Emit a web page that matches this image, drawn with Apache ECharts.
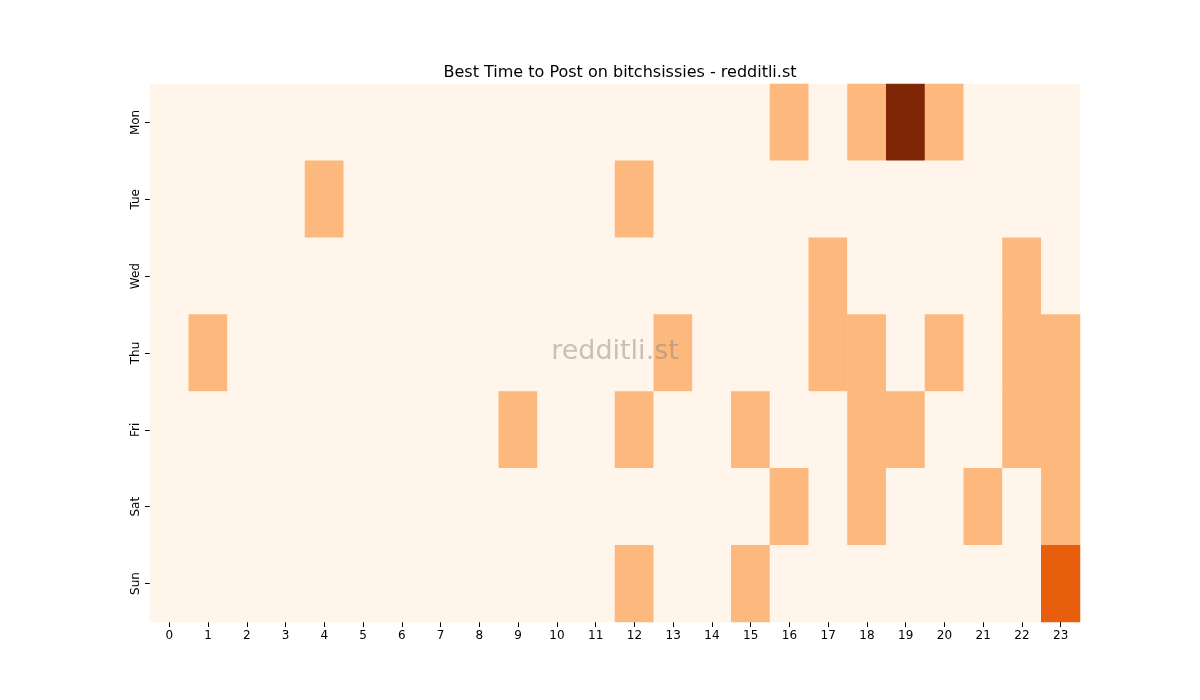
<!DOCTYPE html><html><head><meta charset="utf-8"><script src="https://cdn.jsdelivr.net/npm/echarts@6/dist/echarts.min.js"></script></head><body style="margin:0"><div id="c" style="width:1200px;height:700px"></div><script>
const hours=[...Array(24).keys()].map(String);
const days=['Mon','Tue','Wed','Thu','Fri','Sat','Sun'];
const mon={16:1,18:1,19:3,20:1};
const tue={4:1,12:1};
const wed={17:1,22:1};
const thu={1:1,13:1,17:1,18:1,20:1,22:1,23:1};
const fri={9:1,12:1,15:1,18:1,19:1,22:1,23:1};
const sat={16:1,18:1,21:1,23:1};
const sun={12:1,15:1,23:2};
const rows=[mon,tue,wed,thu,fri,sat,sun];
const data=[];
rows.forEach((r,d)=>{for(let h=0;h<24;h++)data.push([h,d,r[h]||0]);});
const ch=echarts.init(document.getElementById('c'));
ch.setOption({
title:{text:'Best Time to Post on bitchsissies - redditli.st',left:615,top:60,textAlign:'center',textStyle:{fontFamily:'DejaVu Sans',fontWeight:'normal',fontSize:16,color:'#000'}},
graphic:[{type:'text',left:'center',x:0,style:{text:'redditli.st',x:615,y:352,align:'center',verticalAlign:'middle',fontSize:27,fontFamily:'DejaVu Sans',fill:'rgba(128,128,128,0.45)'},z:100,left:undefined}],
grid:{left:150,right:120,top:84,bottom:78},
xAxis:{type:'category',data:hours,axisLine:{show:false},axisTick:{show:true,alignWithLabel:true,length:5,lineStyle:{color:'#000'}},axisLabel:{color:'#000',fontSize:12,fontFamily:'DejaVu Sans'},splitArea:{show:false}},
yAxis:{type:'category',data:days,inverse:true,axisLine:{show:false},axisTick:{show:true,alignWithLabel:true,length:5,lineStyle:{color:'#000'}},axisLabel:{color:'#000',fontSize:12,rotate:90,fontFamily:'DejaVu Sans'}},
visualMap:{show:false,type:'piecewise',dimension:2,pieces:[{value:0,color:'#fff5eb'},{value:1,color:'#fdb97d'},{value:2,color:'#e95e0d'},{value:3,color:'#7f2704'}]},
series:[{type:'heatmap',data:data,itemStyle:{borderWidth:0}}]
});
</script></body></html>
